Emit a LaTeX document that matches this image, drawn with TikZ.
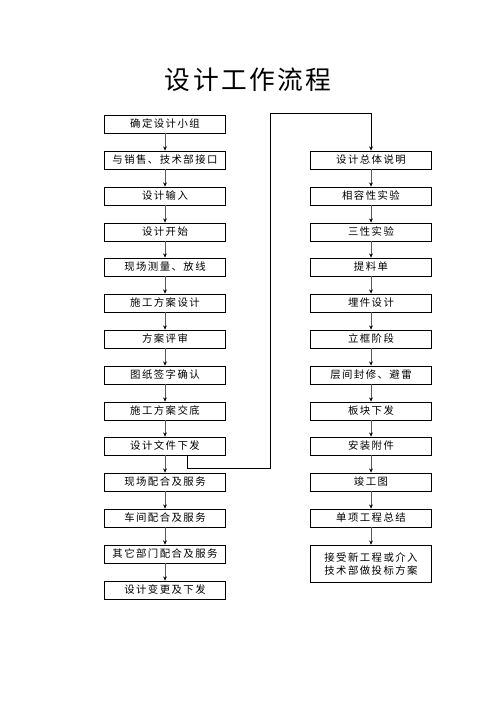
\documentclass[tikz,border=0pt]{standalone}
\usepackage{fontspec}
\setmainfont{Noto Sans CJK SC}
\newfontfamily\cjk[LetterSpace=14]{Noto Sans CJK SC}
\newfontfamily\cjktitle[LetterSpace=9]{Noto Sans CJK SC}
\usepackage{tikz}
\usetikzlibrary{calc,arrows.meta}
\tikzset{
  stage/.style={draw=black, line width=1pt, minimum width=5.12cm, minimum height=0.76cm,
    inner sep=0pt, font=\cjk\fontsize{12.5}{15}\selectfont, align=center},
  flow/.style={draw=black!65, line width=0.8pt, -{Stealth[length=5pt,width=4.5pt,black]}},
  link/.style={draw=black, line width=0.8pt, -{Stealth[length=5pt,width=4.5pt,black]}}
}

\begin{document}
\begin{tikzpicture}[x=0.04233cm, y=-0.04233cm]
			%%%%% START %%%%%
			\useasboundingbox (0, 0) rectangle (496, 702);
			
			\node[font=\cjktitle\fontsize{31}{36}\selectfont] (title) at (248, 80) {设计工作流程};
			
			% left column
			\node[stage] (L0) at (165, 124) {确定设计小组};
			\node[stage] (L1) at (165, 160) {与销售、技术部接口};
			\node[stage] (L2) at (165, 196) {设计输入};
			\node[stage] (L3) at (165, 232) {设计开始};
			\node[stage] (L4) at (165, 267) {现场测量、放线};
			\node[stage] (L5) at (165, 303) {施工方案设计};
			\node[stage] (L6) at (165, 339) {方案评审};
			\node[stage] (L7) at (165, 375) {图纸签字确认};
			\node[stage] (L8) at (165, 411) {施工方案交底};
			\node[stage] (L9) at (165, 446) {设计文件下发};
			\node[stage] (L10) at (165, 482) {现场配合及服务};
			\node[stage] (L11) at (165, 518) {车间配合及服务};
			\node[stage] (L12) at (165, 554) {其它部门配合及服务};
			\node[stage] (L13) at (165, 590) {设计变更及下发};
			
			% right column
			\node[stage] (R1) at (371, 160) {设计总体说明};
			\node[stage] (R2) at (371, 196) {相容性实验};
			\node[stage] (R3) at (371, 232) {三性实验};
			\node[stage] (R4) at (371, 267) {提料单};
			\node[stage] (R5) at (371, 303) {埋件设计};
			\node[stage] (R6) at (371, 339) {立框阶段};
			\node[stage] (R7) at (371, 375) {层间封修、避雷};
			\node[stage] (R8) at (371, 411) {板块下发};
			\node[stage] (R9) at (371, 446) {安装附件};
			\node[stage] (R10) at (371, 482) {竣工图};
			\node[stage] (R11) at (371, 518) {单项工程总结};
			\node[stage, minimum height=1.6cm] (R12) at (371, 564) {接受新工程或介入\\技术部做投标方案};
			
			% arrows
			\foreach \a/\b in {L0/L1, L1/L2, L2/L3, L3/L4, L4/L5, L5/L6, L6/L7, L7/L8, L8/L9, L9/L10, L10/L11, L11/L12, L12/L13,
			                   R1/R2, R2/R3, R3/R4, R4/R5, R5/R6, R6/R7, R7/R8, R8/R9, R9/R10, R10/R11, R11/R12}
			  \draw[flow] (\a.south) -- (\b.north);
			
			% link to right column
			\coordinate (turn) at (270, 113);
			\draw[link] ($(L9.south)+(22, 0)$) -- ++(0, 13) -| (turn) -| (R1.north);
			
			%%%%% END %%%%%
		\end{tikzpicture}
\end{document}
